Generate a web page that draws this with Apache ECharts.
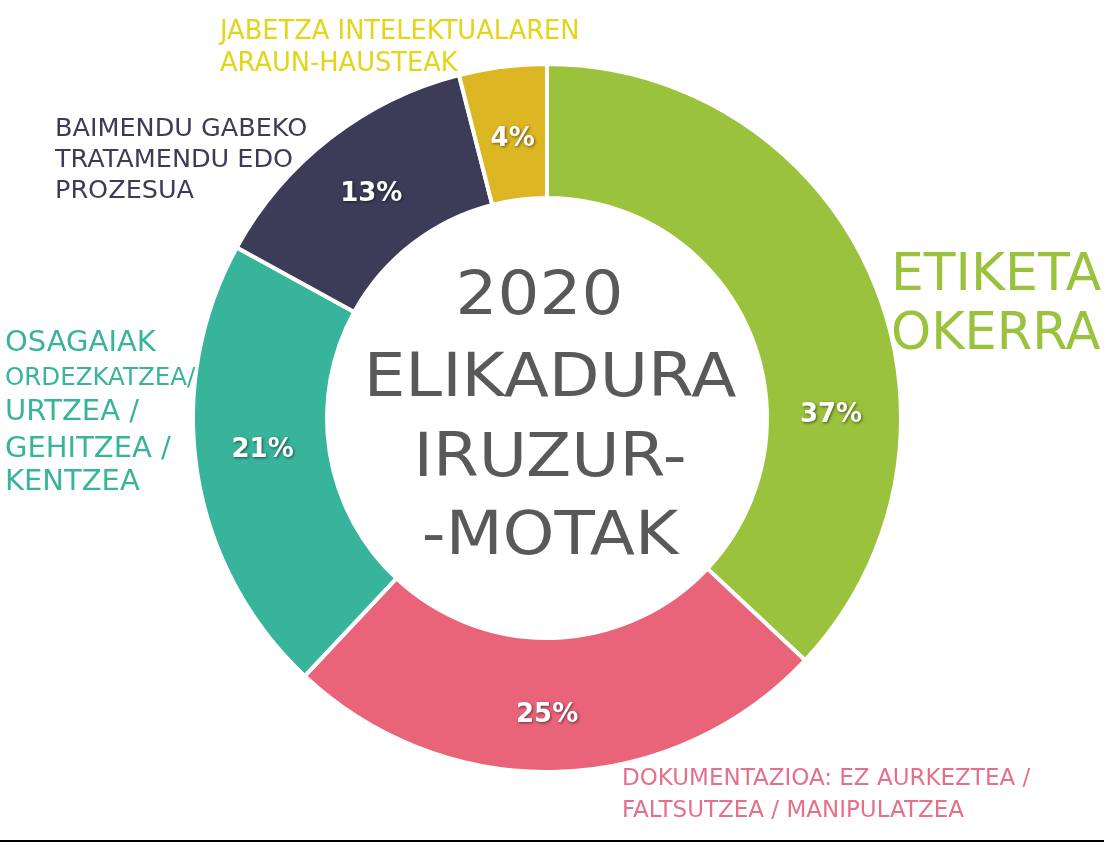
<!DOCTYPE html>
<html><head><meta charset="utf-8">
<script src="https://cdn.jsdelivr.net/npm/echarts@6/dist/echarts.min.js"></script>
<style>html,body{margin:0;padding:0;background:#fff}#c{width:1104px;height:842px}</style>
</head><body><div id="c"></div><script>
// ---- data ----
const categories = [
  'ETIKETA OKERRA',
  'DOKUMENTAZIOA: EZ AURKEZTEA / FALTSUTZEA / MANIPULATZEA',
  'OSAGAIAK ORDEZKATZEA/ URTZEA / GEHITZEA / KENTZEA',
  'BAIMENDU GABEKO TRATAMENDU EDO PROZESUA',
  'JABETZA INTELEKTUALAREN ARAUN-HAUSTEAK'
];
const values = [37, 25, 21, 13, 4];
const labelLines = [
  ['ETIKETA', 'OKERRA'],
  ['DOKUMENTAZIOA: EZ AURKEZTEA /', 'FALTSUTZEA / MANIPULATZEA'],
  ['OSAGAIAK', 'ORDEZKATZEA/', 'URTZEA /', 'GEHITZEA /', 'KENTZEA'],
  ['BAIMENDU GABEKO', 'TRATAMENDU EDO', 'PROZESUA'],
  ['JABETZA INTELEKTUALAREN', 'ARAUN-HAUSTEAK']
];
const centerTitle = ['2020 ', 'ELIKADURA', 'IRUZUR-', '-MOTAK'];

// ---- styles / layout ----
const colors = ['#9bc23c', '#ea6479', '#38b49a', '#3d3c58', '#ddb623'];
const textColors = ['#9bc23c', '#e6708a', '#38b49a', '#3d3c58', '#e4d41a'];
const labelPos = [
  { x: 891, y: [276, 336], size: [52, 51] },
  { x: 622, y: [779, 811], size: [23, 23] },
  { x: 5, y: [343, 379, 412, 449, 482], size: [29, 24.5, 29, 29, 29] },
  { x: 55, y: [129, 160, 191], size: [25.5, 25.5, 25.5] },
  { x: 220, y: [32, 64], size: [25.7, 25.7] }
];
const centerY = [298, 380, 460, 538];
// small nudges of the percentage labels (green one placed at the right side)
const pctNudge = [null, { dx: -9, dy: 7 }, { dx: 2, dy: -13 }, { dx: 2, dy: 5 }, { dx: 2, dy: 9 }];
const FONT = '"DejaVu Sans", Verdana, sans-serif';

const graphics = [];
labelLines.forEach((lines, i) => {
  lines.forEach((t, j) => {
    graphics.push({
      type: 'text', x: labelPos[i].x, y: labelPos[i].y[j], silent: true, z: 100,
      style: {
        text: t, fill: textColors[i], align: 'left', verticalAlign: 'middle',
        font: labelPos[i].size[j] + 'px ' + FONT
      }
    });
  });
});
centerTitle.forEach((t, j) => {
  graphics.push({
    type: 'text', x: 550, y: centerY[j], scaleY: 0.92, silent: true, z: 100,
    style: {
      text: t, fill: '#595959', align: 'center', verticalAlign: 'middle',
      font: '66px ' + FONT
    }
  });
});
graphics.push({
  type: 'rect', silent: true, z: 100, shape: { x: 0, y: 840, width: 1104, height: 2 },
  style: { fill: '#000' }
});

const chart = echarts.init(document.getElementById('c'), null, { renderer: 'canvas' });
chart.setOption({
  animation: false,
  backgroundColor: '#fff',
  graphic: graphics,
  series: [{
    type: 'pie',
    center: [547, 418],
    radius: [220, 354],
    startAngle: 90,
    clockwise: true,
    silent: true,
    avoidLabelOverlap: false,
    itemStyle: { borderColor: '#fff', borderWidth: 4 },
    label: {
      show: true, position: 'inside', formatter: '{c}%',
      color: '#fff', fontFamily: FONT, fontWeight: 'bold', fontSize: 26,
      textShadowColor: 'rgba(0,0,0,0.55)', textShadowBlur: 3,
      textShadowOffsetX: 1, textShadowOffsetY: 1
    },
    labelLine: { show: false },
    labelLayout: function (p) {
      if (p.dataIndex === 0) return { x: 831, y: 415 };
      return pctNudge[p.dataIndex] || {};
    },
    data: categories.map((n, i) => ({ name: n, value: values[i], itemStyle: { color: colors[i] } }))
  }]
});
</script></body></html>
